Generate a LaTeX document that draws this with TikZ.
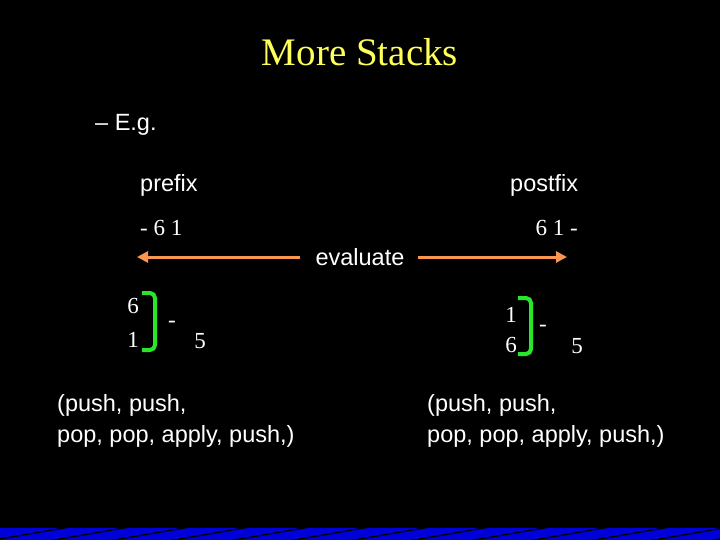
\documentclass[tikz,border=0pt]{standalone}
\usepackage{fontspec}
\setsansfont{Liberation Sans}
\setmainfont{Liberation Serif}
\usetikzlibrary{arrows.meta}
\definecolor{orng}{RGB}{250,150,80}
\definecolor{grn}{RGB}{40,230,40}
\definecolor{ttl}{RGB}{255,255,90}
\begin{document}
\begin{tikzpicture}[x=1pt,y=-1pt,
  sf/.style={text=white,font=\sffamily\fontsize{23.5}{31}\selectfont,inner sep=0},
  sr/.style={text=white,font=\rmfamily\fontsize{23}{27}\selectfont,inner sep=0},
  arr/.style={orng,line width=3pt,-{Triangle[length=11pt,width=11pt]}},
  brk/.style={grn,line width=4pt,rounded corners=5pt}]
\fill[black] (0,0) rectangle (720,540);
\useasboundingbox (0,0) rectangle (720,540);
\fill[blue!85!black] (0,528) rectangle (720,540);
\foreach \i in {0,...,12} \fill[black] (\i*60-10,540) -- (\i*60+60,528) -- (\i*60+68,528) -- (\i*60-2,540) -- cycle;
\node[text=ttl,font=\rmfamily\fontsize{39}{44}\selectfont,inner sep=0] (t) at (360,52) {More Stacks};
\node[sf,anchor=west] (eg) at (95,125) {– E.g.};
\node[sf,anchor=west] (pre) at (140,185) {prefix};
\node[sf,anchor=west] (post) at (510,185) {postfix};
\node[sr,anchor=west] (pe) at (140,228) {- 6 1};
\node[sr,anchor=east] (qe) at (578,228) {6 1 -};
\node[sf] (ev) at (360,257) {evaluate};
\coordinate (la) at (137,257); \coordinate (ra) at (567,257);
\coordinate (ls) at (300,257); \coordinate (rs) at (418,257);
\draw[arr] (ls) -- (la);
\draw[arr] (rs) -- (ra);
\node[sr] (a6) at (133,306) {6};
\node[sr] (a1) at (133,340) {1};
\draw[brk] (142,293) -- (155,293) -- (155,350) -- (142,350);
\node[sr] (am) at (172,324) {-};
\node[sr] (a5) at (200,341) {5};
\node[sr] (b1) at (511,315) {1};
\node[sr] (b6) at (511,345) {6};
\draw[brk] (518,298) -- (531,298) -- (531,354) -- (518,354);
\node[sr] (bm) at (543,328) {-};
\node[sr] (b5) at (577,346) {5};
\node[sf,anchor=west,align=left] (lt) at (57,421) {(push, push,\\pop, pop, apply, push,)};
\node[sf,anchor=west,align=left] (rt) at (427,421) {(push, push,\\pop, pop, apply, push,)};
\end{tikzpicture}
\end{document}
